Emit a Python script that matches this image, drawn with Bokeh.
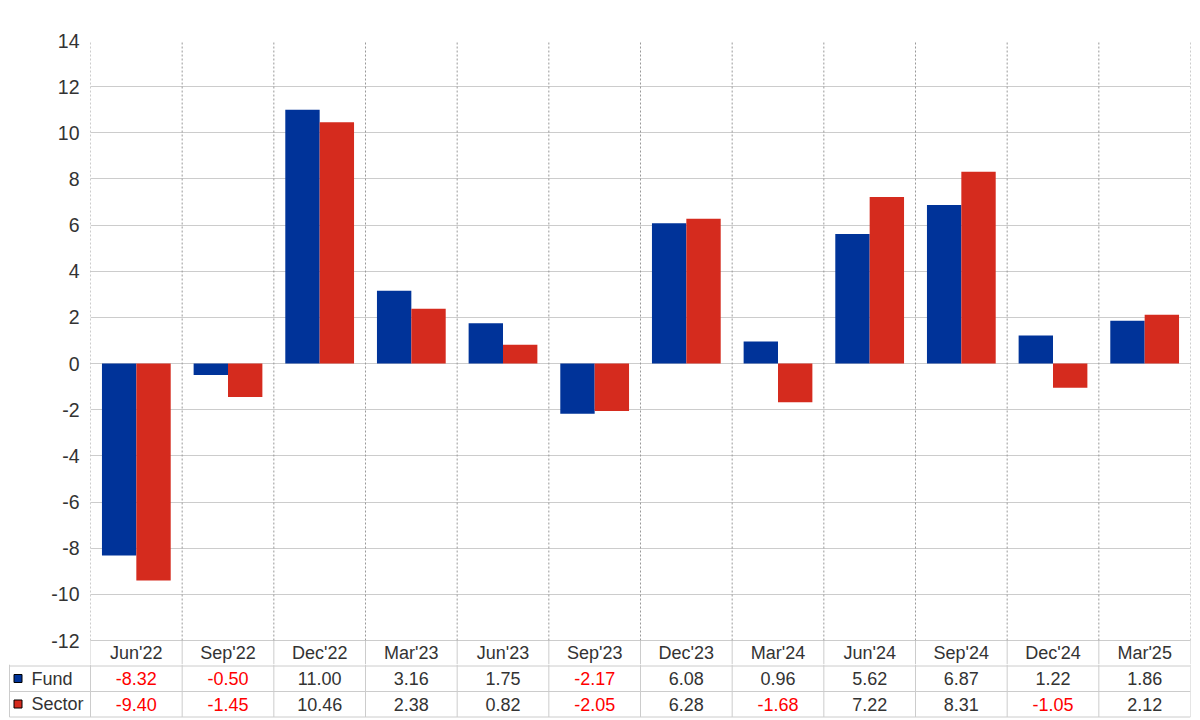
from bokeh.plotting import figure
from bokeh.layouts import column
from bokeh.models import ColumnDataSource, FixedTicker, FactorRange, Range1d
from bokeh.transform import dodge
from bokeh.core.properties import value
from bokeh.embed import file_html
from bokeh.resources import INLINE

categories = ["Jun'22", "Sep'22", "Dec'22", "Mar'23", "Jun'23", "Sep'23",
              "Dec'23", "Mar'24", "Jun'24", "Sep'24", "Dec'24", "Mar'25"]
fund = [-8.32, -0.50, 11.00, 3.16, 1.75, -2.17, 6.08, 0.96, 5.62, 6.87, 1.22, 1.86]
sector = [-9.40, -1.45, 10.46, 2.38, 0.82, -2.05, 6.28, -1.68, 7.22, 8.31, -1.05, 2.12]
y_ticks = list(range(-12, 15, 2))
series_names = ["Fund", "Sector"]

BLUE = "#003399"
RED = "#D52B1E"
GRID = "#cccccc"
DOT = "#999999"
TXT = "#333333"
NEG = "#ff0000"
FONT = "Liberation Sans"

n = len(categories)
bounds = list(range(n + 1))

# ---------------- chart (with category header row) ----------------
src = ColumnDataSource(dict(cat=categories, fund=fund, sector=sector,
                            ycat=[-12.54] * n))

W = 1192
pa = figure(x_range=FactorRange(*categories, range_padding=0, factor_padding=0),
            y_range=(-13.04, 14), width=W, height=664,
            output_backend="svg", toolbar_location=None,
            min_border_left=90, min_border_right=2, min_border_top=40, min_border_bottom=0)
pa.frame_align = False
pa.outline_line_color = None
pa.xaxis.visible = False
pa.xgrid.visible = False

yax = pa.yaxis[0]
yax.ticker = FixedTicker(ticks=y_ticks)
yax.major_label_overrides = {t: str(t) for t in y_ticks}
yax.axis_line_color = None
yax.major_tick_line_color = None
yax.minor_tick_line_color = None
yax.major_label_standoff = 5
yax.major_label_text_font = FONT
yax.major_label_text_font_size = "19.5px"
yax.major_label_text_color = TXT

pa.ygrid.ticker = FixedTicker(ticks=y_ticks)
pa.ygrid.grid_line_color = GRID
pa.ygrid.grid_line_width = 1

pa.segment(x0=bounds, y0=[-12] * (n + 1), x1=bounds, y1=[14] * (n + 1),
           line_color=DOT, line_width=1, line_dash="2 2")
pa.segment(x0=bounds, y0=[-12] * (n + 1), x1=bounds, y1=[-13.1] * (n + 1),
           line_color=GRID, line_width=1)

pa.vbar(x=dodge("cat", -0.1875, range=pa.x_range), top="fund", bottom=0, width=0.375,
        source=src, fill_color=BLUE, line_color=None)
pa.vbar(x=dodge("cat", 0.1875, range=pa.x_range), top="sector", bottom=0, width=0.375,
        source=src, fill_color=RED, line_color=None)
pa.text(x="cat", y="ycat", text="cat", source=src, text_color=TXT,
        text_font=value(FONT), text_font_size="18px", text_align="center",
        text_baseline="middle")

# ---------------- data table ----------------
xs = [i + 0.5 for i in range(n)]
tsrc = ColumnDataSource(dict(
    x=xs,
    fund_txt=[f"{v:.2f}" for v in fund],
    sector_txt=[f"{v:.2f}" for v in sector],
    fund_col=[NEG if v < 0 else TXT for v in fund],
    sector_col=[NEG if v < 0 else TXT for v in sector],
    yf=[678] * n, ys=[703.5] * n,
))

UNIT = 1100 / n
x_left = -90 / UNIT
pb = figure(x_range=Range1d(x_left, n), y_range=Range1d(720, 664), width=W, height=56,
            output_backend="svg", toolbar_location=None,
            min_border_left=0, min_border_right=2, min_border_top=0, min_border_bottom=0)
pb.frame_align = False
pb.outline_line_color = None
pb.axis.visible = False
pb.grid.visible = False

x_col = (9 - 90) / UNIT
vx = [x_col] + bounds
pb.segment(x0=vx, y0=[664] * len(vx), x1=vx, y1=[716.5] * len(vx),
           line_color=GRID, line_width=1)
for yl in (665.5, 691, 716.5):
    pb.segment(x0=[x_col], y0=[yl], x1=[n], y1=[yl], line_color=GRID, line_width=1)

common = dict(text_font=value(FONT), text_font_size="18px", text_align="center",
              text_baseline="middle", source=tsrc)
pb.text(x="x", y="yf", text="fund_txt", text_color="fund_col", **common)
pb.text(x="x", y="ys", text="sector_txt", text_color="sector_col", **common)

sq_x = (17.5 - 90) / UNIT
name_x = (31 - 90) / UNIT
pb.scatter(x=[sq_x, sq_x], y=[678, 703.5], marker="square", size=8,
           fill_color=[BLUE, RED], line_color="#000000", line_width=1)
pb.text(x=[name_x, name_x], y=[678, 703.5], text=series_names, text_color=TXT,
        text_font=value(FONT), text_font_size="18px", text_align="left",
        text_baseline="middle")

layout = column(pa, pb, spacing=0)
open("out.html", "w").write(file_html(layout, INLINE))
